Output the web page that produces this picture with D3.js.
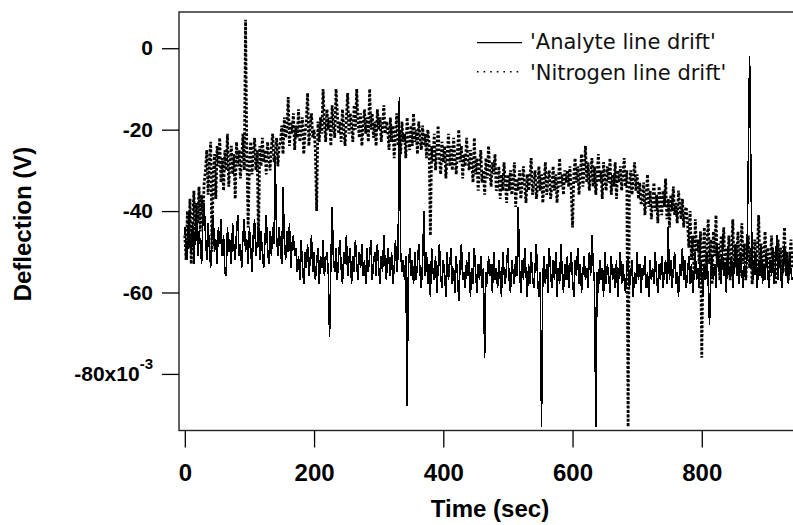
<!DOCTYPE html>
<html>
<head>
<meta charset="utf-8">
<script src="https://cdn.jsdelivr.net/npm/d3@7"></script>
<style>
body { margin: 0; background: #fff; }
.axis text { font-family: "Liberation Sans", Arial, sans-serif; font-weight: bold; fill: #000; }
.axis line { stroke: #000; stroke-width: 1.3; }
.title { font-family: "Liberation Sans", Arial, sans-serif; font-weight: bold; font-size: 24px; fill: #000; }
.legend text { font-family: "DejaVu Sans", sans-serif; font-size: 21px; fill: #111; }
.solid { shape-rendering: crispEdges; }
</style>
</head>
<body>
<svg class="chart"></svg>
<script>
// one sample every 2 sec, values in units of 1e-3 V
var sampleStep = 2;

var analyte = [
  -44, -49, -52, -41, -47, -50, -43, -53, -46, -40, -51, -45, -48, -53, -42, -38,
  -46, -52, -43, -49, -54, -45, -41, -50, -47, -53, -44, -48, -42, -51, -46, -55,
  -56, -44, -50, -47, -53, -43, -49, -52, -45, -41, -51, -48, -54, -46, -42, -50,
  -47, -53, -44, -49, -55, -46, -42, -51, -48, -43, -52, -45, -50, -54, -47, -41,
  -49, -53, -45, -51, -44, -48,
  -27, -46, -51, -44, -49, -53, -34, -47, -52, -45, -50, -43, -54, -48, -46, -51,
  -49, -55, -51, -57, -47, -53, -58, -50, -54, -48, -56, -52, -46, -55, -50, -57,
  -53, -49, -58, -51, -54, -47, -56, -52, -50, -55,
  -71, -53, -39, -52,
  -55, -49, -57, -51, -47, -54, -58, -50, -53, -46, -56, -52, -49, -58, -51, -55,
  -47, -53, -57, -50, -54, -48, -56, -52, -58, -49, -55, -51, -47, -57, -53, -50,
  -56, -48, -54, -58, -51, -55, -46, -53, -57, -49, -52, -56, -50, -58, -54, -47,
  -55, -51,
  -12, -50, -55, -52, -57, -51, -88, -54, -49, -56, -52, -58,
  -50, -57, -53, -48, -55, -59, -52, -40, -56, -50, -58, -53, -61, -49, -55, -57,
  -51, -60, -54, -48, -56, -59, -52, -55, -61, -50, -57, -53, -49, -58, -54, -60,
  -51, -56, -62, -53, -48, -57, -55, -59, -52, -56, -50, -61, -54, -58, -49, -55,
  -60, -53, -57, -51, -59, -54,
  -76, -55, -58, -51, -56, -53, -60, -50, -57, -54,
  -59, -52, -56, -61, -50, -55, -58, -53, -49, -57, -60, -52, -55, -58, -51, -56,
  -39, -54,
  -60, -52, -57, -49, -55, -61, -53, -58, -50, -56, -59, -54, -48, -57, -61, -55, -93,
  -56, -51, -58, -53, -60, -49, -55, -59, -52, -57, -50, -61, -54, -58, -48, -55,
  -60, -53, -57, -51, -59, -54, -50, -57, -61, -52, -56, -49, -58, -53, -60, -55,
  -51, -57, -54, -59, -50, -56, -46, -53, -58,
  -93,
  -55, -60, -52, -57, -54, -61, -50, -58, -53, -56, -60, -51, -57, -54, -59, -52,
  -61, -55, -50, -58, -53, -57, -60, -54, -51, -59, -56, -52, -61, -55, -58, -50,
  -57, -53, -60, -54, -56, -51, -59, -55, -61, -52, -57, -54, -58, -50, -56, -60,
  -53, -57, -51, -59, -55, -52, -58, -44,
  -57, -52, -59, -54, -50, -58, -55, -61, -53, -56, -49, -57, -52, -59, -55, -51,
  -58, -53, -60, -56, -50, -57, -54, -59, -52, -55, -61, -53, -57, -50, -58,
  -68, -55,
  -51, -57, -53, -59, -48, -55, -52, -58, -50, -56, -53, -60, -49, -55, -57, -51,
  -59, -54, -48, -56, -52, -58, -50, -55, -59, -53, -57, -51,
  -28, -2, -30, -54,
  -57, -50, -55, -59, -52, -56, -48, -58, -53, -57, -50, -55, -59, -52, -56, -49,
  -58, -54, -46, -57, -51, -55, -59, -53, -48, -56, -52, -58, -50, -55, -57
];

var nitrogen = [
  -46, -52, -40, -49, -37, -53, -44, -35, -47, -38, -43, -34, -45, -36, -41, -33,
  -30, -25, -36, -28, -23, -50, -31, -26, -37, -24, -29, -22, -33, -27, -35, -25,
  -30, -21, -34, -28, -24, -31, -26, -37, -23, -29,
  -25, -32, -27, -21, -30, 7, -26, -44,
  -28, -23, -31, -26, -22, -30, -25, -47, -24, -29, -22, -28, -25, -31, -23, -27,
  -30, -24, -21, -28, -26, -22, -29, -24,
  -23, -19, -26, -17, -22, -20, -12, -24, -18, -21, -16, -25, -19, -22, -15, -23,
  -20, -17, -26, -21, -18, -11, -24, -19, -16, -22, -20, -25, -40, -18, -23, -17,
  -21, -10, -18, -23, -15, -20, -17, -24, -14, -19, -22, -10, -16, -21, -18, -23,
  -15, -20, -24, -17, -11, -21, -16, -19, -23, -14, -20, -10, -18, -22, -16, -24,
  -19, -15, -21, -17, -23, -10, -20, -16, -22, -18, -24, -15, -20, -17, -23, -19,
  -14, -21, -18,
  -20, -25, -17, -23, -19, -27, -21, -16, -24, -20, -26, -18, -23, -21, -27, -17,
  -22, -25, -19, -24, -16, -23, -20, -26, -18, -22, -25, -19, -24, -21, -27, -20,
  -23,
  -46, -24,
  -28, -21, -30, -25, -19, -27, -31, -23, -28, -24, -32, -26, -21, -29, -24, -30,
  -22, -27, -31, -25, -20, -28, -24, -32, -26, -29, -22, -27, -30, -25,
  -28, -33, -22, -31, -27, -35, -29, -25, -33, -30, -36, -27, -32, -24, -30, -34,
  -28, -31, -26, -35,
  -34, -29, -37, -31, -35, -28, -33, -38, -31, -35, -30, -36, -33, -28, -39, -32,
  -35, -30, -37, -33, -29, -34, -38, -31, -35, -32, -27, -36, -33, -30, -37, -34,
  -29, -35, -31, -38, -33, -28, -36, -32, -30, -37, -34, -29, -35, -31, -38, -33,
  -27, -34, -31, -36, -30, -33,
  -30, -34, -29, -35, -44, -31, -27, -33, -29, -36, -31, -26, -34, -30, -24, -33,
  -28, -35, -31, -27, -34, -29, -36, -31, -26, -33, -30, -37, -28, -32, -35, -29,
  -33, -27, -36, -31, -34, -28, -37, -30, -33, -29, -35, -31, -27, -34, -30,
  -93, -34,
  -30, -36, -32, -28, -35, -31, -37, -33, -38,
  -38, -33, -41, -36, -31, -39, -35, -42, -37, -33, -40, -36, -43, -34, -38, -41,
  -35, -39, -32, -42, -37, -44, -36, -40, -34, -41, -38, -43, -35, -39, -42, -37,
  -44, -40, -39,
  -43, -49, -40, -52, -46, -55, -42, -50, -47, -53, -45, -76, -50, -44, -56, -48,
  -42, -53, -47, -58, -45, -51, -41, -54, -48, -57, -46,
  -50, -44, -55, -49, -53, -46, -57, -51, -42, -54, -48, -52, -45, -56, -50, -43,
  -53, -48, -57, -51, -46, -54, -49, -58, -52, -47, -55, -50, -41, -53, -48, -56,
  -51, -45, -54, -49, -57, -52, -46, -55, -50, -58, -53, -47, -54, -49, -56, -51,
  -44, -55, -50, -57, -52, -47, -54
];

var seriesNames = ["'Analyte line drift'", "'Nitrogen line drift'"];
var xTicks = [0, 200, 400, 600, 800];
var yTicks = [0, -20, -40, -60, -80];
var yTickLabels = ['0', '-20', '-40', '-60', '-80x10'];

var margin = {top: 12, left: 179},
	width = 621,
	height = 418.5;

var chart = d3.select('.chart')
	.attr('width', 793)
	.attr('height', 525);

var x = d3.scaleLinear().domain([-9, 952]).range([margin.left, margin.left + width]),
	y = d3.scaleLinear().domain([-93.9, 8.9]).range([margin.top + height, margin.top]);

chart.append('clipPath')
	.attr('id', 'plot')
  .append('rect')
	.attr('x', margin.left)
	.attr('y', margin.top)
	.attr('width', width)
	.attr('height', height);

var line = d3.line()
	.x(function(d, i) { return x(i * sampleStep); })
	.y(function(d) { return y(d); });

// nitrogen first so the analyte trace sits on top
chart.append('path')
	.datum(nitrogen)
	.attr('clip-path', 'url(#plot)')
	.attr('fill', 'none')
	.attr('stroke', '#000')
	.attr('stroke-width', 2.8)
	.attr('stroke-dasharray', '2.6,1.8')
	.attr('d', line);

chart.append('path')
	.datum(analyte)
	.attr('class', 'solid')
	.attr('clip-path', 'url(#plot)')
	.attr('fill', 'none')
	.attr('stroke', '#000')
	.attr('stroke-width', 1.6)
	.attr('d', line);

// frame (right side runs off the picture)
chart.append('rect')
	.attr('x', margin.left)
	.attr('y', margin.top)
	.attr('width', width + 4)
	.attr('height', height)
	.attr('fill', 'none')
	.attr('stroke', '#222')
	.attr('stroke-width', 1.4);

var xAxis = d3.axisBottom(x).tickValues(xTicks).tickSize(17).tickPadding(16),
	yAxis = d3.axisLeft(y).tickValues(yTicks).tickSize(17).tickPadding(9)
		.tickFormat(function(d, i) { return yTickLabels[i]; });

var gx = chart.append('g')
	.attr('class', 'axis')
	.attr('transform', 'translate(0,' + (margin.top + height) + ')')
	.call(xAxis);
gx.select('.domain').remove();
gx.selectAll('text').style('font-size', '24px');

var gy = chart.append('g')
	.attr('class', 'axis')
	.attr('transform', 'translate(' + margin.left + ',0)')
	.call(yAxis);
gy.select('.domain').remove();
gy.selectAll('text').style('font-size', '21px');

// exponent on the last label
gy.selectAll('.tick text')
	.filter(function(d) { return d === -80; })
  .append('tspan')
	.attr('dy', -12)
	.style('font-size', '15px')
	.text('-3');

chart.append('text')
	.attr('class', 'title')
	.attr('x', 490)
	.attr('y', 517)
	.attr('text-anchor', 'middle')
	.text('Time (sec)');

chart.append('text')
	.attr('class', 'title')
	.attr('transform', 'translate(31,224) rotate(-90)')
	.attr('text-anchor', 'middle')
	.text('Deflection (V)');

// legend
var legend = chart.append('g').attr('class', 'legend');

legend.append('line')
	.attr('x1', 477).attr('x2', 522)
	.attr('y1', 42.7).attr('y2', 42.7)
	.attr('stroke', '#000')
	.attr('stroke-width', 1.3);

legend.append('line')
	.attr('x1', 477).attr('x2', 520)
	.attr('y1', 71.7).attr('y2', 71.7)
	.attr('stroke', '#000')
	.attr('stroke-width', 1.6)
	.attr('stroke-dasharray', '1.6,5');

legend.selectAll('text')
	.data(seriesNames)
  .enter().append('text')
	.attr('x', 530)
	.attr('y', function(d, i) { return 49 + i * 31; })
	.text(function(d) { return d; });
</script>
</body>
</html>
